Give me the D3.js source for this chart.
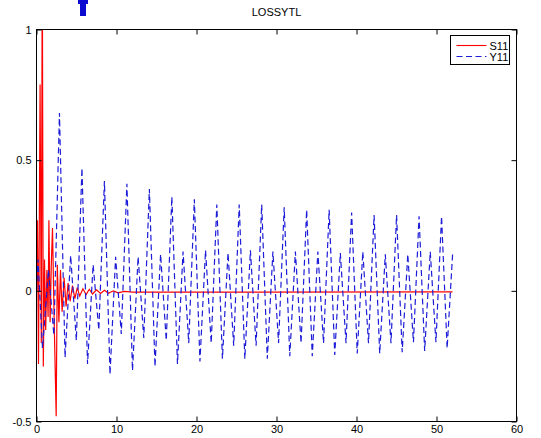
<!DOCTYPE html>
<html>
<head>
<meta charset="utf-8">
<title>LOSSYTL</title>
<script src="https://d3js.org/d3.v7.min.js"></script>
<style>
  body { margin: 0; background: #fff; }
  svg { display: block; font-family: "Liberation Sans", Arial, sans-serif; }
  .tick text { font-size: 11px; fill: #000; }
  .title { font-size: 11px; }
</style>
</head>
<body>
<script>
// S11 (red, solid)
var s11X = [0, 0.12, 0.25, 0.45, 0.6, 0.72, 0.85, 1.0, 1.15, 1.3, 1.45, 1.55, 1.7, 1.85, 2.0, 2.2, 2.46,
            2.6, 2.8, 3.0, 3.2, 3.45, 3.7, 3.95, 4.2, 4.5, 4.8, 5.1, 5.4, 5.8, 6.2, 6.6, 7.0, 7.5, 8.0,
            8.5, 9.0, 9.6, 10.2, 11.0, 12.0, 52.0];
var s11Y = [0, 0.27, -0.28, 0.79, -0.2, 1.3, -0.29, 0.12, -0.15, 0.08, -0.1, 0.27, -0.12, 0.1, 0.24, -0.1, -0.48,
            0.1, -0.12, 0.08, -0.08, 0.05, -0.06, 0.03, -0.04, 0.02, -0.03, 0.012, -0.02, 0.008, -0.014, 0.006, -0.012, 0.004, -0.01,
            0.002, -0.009, 0.0, -0.008, -0.002, -0.005, -0.004];

// Y11 (blue, dashed) - extrema
var y11X = [0, 0.19, 0.75, 1.50, 2.17,
            2.87, 3.57, 4.27, 4.98,
            5.68, 6.38, 7.08, 7.79,
            8.49, 9.19, 9.89, 10.60,
            11.30, 12.00, 12.70, 13.41,
            14.11, 14.81, 15.51, 16.22,
            16.92, 17.62, 18.32, 19.03,
            19.73, 20.43, 21.13, 21.84,
            22.54, 23.24, 23.94, 24.65,
            25.34, 26.04, 26.74, 27.45,
            28.15, 28.85, 29.55, 30.26,
            30.96, 31.66, 32.36, 33.07,
            33.77, 34.47, 35.17, 35.88,
            36.58, 37.28, 37.98, 38.69,
            39.39, 40.09, 40.79, 41.50,
            42.20, 42.90, 43.60, 44.31,
            45.01, 45.71, 46.41, 47.12,
            47.82, 48.52, 49.22, 49.93,
            50.63, 51.33, 52.03];
var y11Y = [0, 0.12, -0.22, 0.08, -0.17,
            0.68, -0.255, 0.135, -0.19,
            0.47, -0.28, 0.10, -0.15,
            0.42, -0.32, 0.13, -0.165,
            0.41, -0.305, 0.13, -0.18,
            0.39, -0.29, 0.14, -0.19,
            0.36, -0.28, 0.15, -0.20,
            0.35, -0.27, 0.155, -0.20,
            0.33, -0.26, 0.145, -0.21,
            0.33, -0.26, 0.155, -0.21,
            0.33, -0.26, 0.15, -0.20,
            0.32, -0.25, 0.15, -0.20,
            0.31, -0.25, 0.15, -0.20,
            0.31, -0.245, 0.145, -0.20,
            0.30, -0.24, 0.15, -0.20,
            0.29, -0.24, 0.14, -0.20,
            0.29, -0.235, 0.14, -0.197,
            0.285, -0.23, 0.15, -0.197,
            0.285, -0.22, 0.15];

var xTicks = [0, 10, 20, 30, 40, 50, 60];
var yTicks = [-0.5, 0, 0.5, 1];
var seriesNames = ["S11", "Y11"];

var W = 541, H = 438;
var plotL = 36.5, plotR = 516.5, plotT = 29.5, plotB = 421.5;
var blue = "#1c1cd8";

var svg = d3.select("body").append("svg")
    .attr("width", W).attr("height", H);

var x = d3.scaleLinear().domain([0, 60]).range([plotL, plotR]);
var y = d3.scaleLinear().domain([-0.5, 1]).range([plotB, plotT]);

// odd blue mark at top left of the picture
svg.append("path")
    .attr("d", "M78,0 H88 V4 H86 V16 H80 V4 H78 Z")
    .attr("fill", "#0a0ad0");

svg.append("text").attr("class", "title")
    .attr("x", (plotL + plotR) / 2).attr("y", 16)
    .attr("text-anchor", "middle")
    .text("LOSSYTL");

svg.append("clipPath").attr("id", "plot-clip")
  .append("rect")
    .attr("x", plotL).attr("y", plotT)
    .attr("width", plotR - plotL).attr("height", plotB - plotT);

var line = d3.line()
    .x(function(d) { return x(d[0]); })
    .y(function(d) { return y(d[1]); });

var plot = svg.append("g").attr("clip-path", "url(#plot-clip)");

plot.append("path")
    .datum(d3.zip(s11X, s11Y))
    .attr("d", line)
    .attr("fill", "none")
    .attr("stroke", "#ff0000")
    .attr("stroke-width", 1.2);

plot.append("path")
    .datum(d3.zip(y11X, y11Y))
    .attr("d", line)
    .attr("fill", "none")
    .attr("stroke", blue)
    .attr("stroke-width", 1.2)
    .attr("stroke-dasharray", "6,3.5");

// axes, MATLAB style: box, ticks inside on all sides
var xAxis = d3.axisBottom(x).tickValues(xTicks).tickSizeInner(-5).tickSizeOuter(0).tickPadding(6);
var yAxis = d3.axisLeft(y).tickValues(yTicks).tickSizeInner(-5).tickSizeOuter(0).tickPadding(6)
    .tickFormat(function(d) { return d; });

svg.append("g").attr("transform", "translate(0," + plotB + ")").call(xAxis)
    .call(function(g) { g.selectAll("text").attr("y", 4).attr("dy", "0.71em"); });
svg.append("g").attr("transform", "translate(" + plotL + ",0)").call(yAxis)
    .call(function(g) { g.selectAll("text").attr("x", -5); });
svg.append("g").attr("transform", "translate(0," + plotT + ")")
    .call(d3.axisTop(x).tickValues(xTicks).tickSizeInner(-5).tickSizeOuter(0).tickFormat(""));
svg.append("g").attr("transform", "translate(" + plotR + ",0)")
    .call(d3.axisRight(y).tickValues(yTicks).tickSizeInner(-5).tickSizeOuter(0).tickFormat(""));

svg.selectAll(".domain").remove();
svg.selectAll(".tick line").attr("stroke", "#000");

svg.append("rect")
    .attr("x", plotL).attr("y", plotT)
    .attr("width", plotR - plotL).attr("height", plotB - plotT)
    .attr("fill", "none").attr("stroke", "#000").attr("stroke-width", 1);

// legend
var lg = svg.append("g").attr("transform", "translate(450.5,35.5)");
lg.append("rect").attr("width", 59).attr("height", 29)
    .attr("fill", "#fff").attr("stroke", "#000");
var styles = [{c: "#ff0000", d: null}, {c: blue, d: "6,3.5"}];
seriesNames.forEach(function(n, i) {
  var yy = 10 + i * 11;
  lg.append("line").attr("x1", 6).attr("x2", 36).attr("y1", yy).attr("y2", yy)
      .attr("stroke", styles[i].c).attr("stroke-width", 1.1)
      .attr("stroke-dasharray", styles[i].d);
  lg.append("text").attr("x", 39).attr("y", yy + 4)
      .style("font-size", "11px").text(n);
});
</script>
</body>
</html>
